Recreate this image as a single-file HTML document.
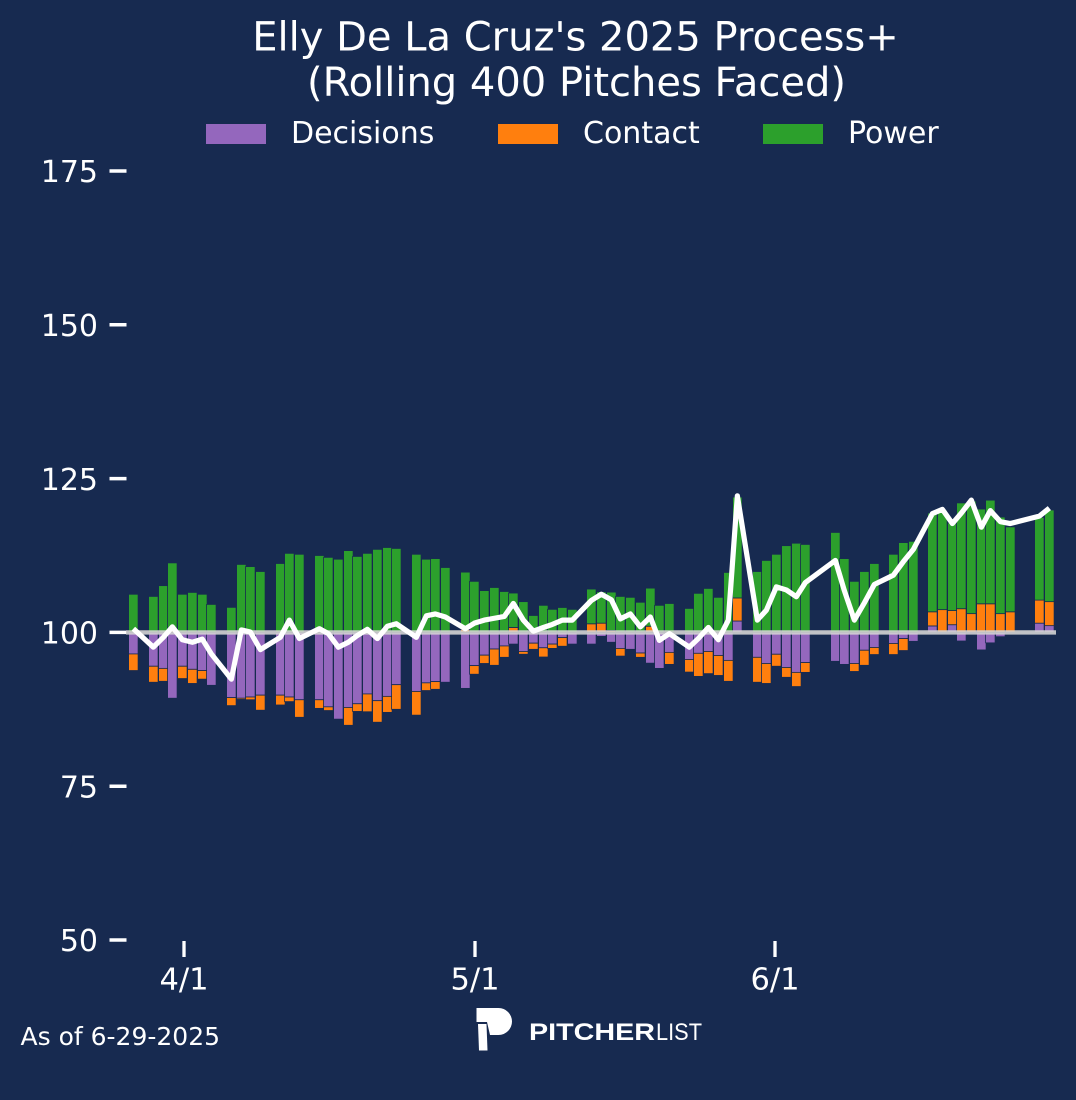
<!DOCTYPE html>
<html>
<head>
<meta charset="utf-8">
<style>
  html, body { margin: 0; padding: 0; background: #172a50; }
  svg { display: block; }
  text { font-family: "DejaVu Sans", "Liberation Sans", sans-serif; fill: #ffffff; }
</style>
</head>
<body>
<svg id="chart" width="1076" height="1100" viewBox="0 0 1076 1100" xmlns="http://www.w3.org/2000/svg">
  <rect x="0" y="0" width="1076" height="1100" fill="#172a50"/>

  <!-- Title -->
  <text x="575.5" y="50.7" font-size="40" text-anchor="middle">Elly De La Cruz's 2025 Process+</text>
  <text x="576.5" y="96" font-size="40" text-anchor="middle">(Rolling 400 Pitches Faced)</text>

  <!-- Legend -->
  <rect x="206" y="124" width="60" height="20" fill="#9467bd"/>
  <text x="291" y="143" font-size="30">Decisions</text>
  <rect x="498" y="124" width="60" height="20" fill="#ff7f0e"/>
  <text x="583" y="143" font-size="30">Contact</text>
  <rect x="763" y="124" width="60" height="20" fill="#2ca02c"/>
  <text x="848" y="143" font-size="30">Power</text>

  <!-- Y ticks -->
  <g stroke="#ffffff" stroke-width="3.5">
    <line x1="109.5" y1="171" x2="126.5" y2="171"/>
    <line x1="109.5" y1="324.8" x2="126.5" y2="324.8"/>
    <line x1="109.5" y1="478.6" x2="126.5" y2="478.6"/>
    <line x1="109.5" y1="632.4" x2="126.5" y2="632.4"/>
    <line x1="109.5" y1="786.2" x2="126.5" y2="786.2"/>
    <line x1="109.5" y1="940" x2="126.5" y2="940"/>
  </g>
  <g font-size="30" text-anchor="end">
    <text x="98" y="182.2">175</text>
    <text x="98" y="336">150</text>
    <text x="98" y="489.8">125</text>
    <text x="98" y="643.6">100</text>
    <text x="98" y="797.4">75</text>
    <text x="98" y="951.2">50</text>
  </g>

  <!-- X ticks -->
  <g stroke="#ffffff" stroke-width="3.3">
    <line x1="184" y1="941" x2="184" y2="957"/>
    <line x1="475" y1="941" x2="475" y2="957"/>
    <line x1="775" y1="941" x2="775" y2="957"/>
  </g>
  <g font-size="30.5" text-anchor="middle">
    <text x="184" y="989.5">4/1</text>
    <text x="475" y="989.5">5/1</text>
    <text x="775" y="989.5">6/1</text>
  </g>

  <!-- Bars (generated) -->
  <g id="bars"></g>

  <!-- Baseline -->
  <line x1="126" y1="632.4" x2="1056" y2="632.4" stroke="#d3d3d3" stroke-opacity="0.9" stroke-width="4.4"/>

  <!-- Process+ line (generated) -->
  <polyline id="pline" fill="none" stroke="#ffffff" stroke-width="5.2" stroke-linejoin="round" stroke-linecap="butt" points=""/>

  <!-- Footer -->
  <text x="20.5" y="1045" font-size="25">As of 6-29-2025</text>

  <!-- Pitcher List logo -->
  <g fill="#ffffff">
    <path d="M476.5,1008 H498.5 A13.5,13.5 0 0 1 498.5,1035 H490 L487,1022 H476.5 Z"/>
    <path d="M478,1024 H486.5 L487.5,1050.5 H479 Z"/>
  </g>
  <text x="529" y="1040" font-weight="bold" font-size="24.5" textLength="126" lengthAdjust="spacingAndGlyphs" style="font-family:'Liberation Sans',sans-serif;">PITCHER</text>
  <text x="656" y="1040" font-size="24.5" textLength="46" lengthAdjust="spacingAndGlyphs" style="font-family:'Liberation Sans',sans-serif;font-weight:300;">LIST</text>
</svg>

<script>
(function(){
  var data = [
    [129,-3.5,-2.7,6.2,100.6],
    [149,-5.5,-2.6,5.85,97.6],
    [159,-5.85,-2.1,7.6,99.2],
    [168,-10.7,0.3,11.0,100.9],
    [178,-5.5,-2.0,6.2,98.8],
    [188,-6.0,-2.3,6.5,98.4],
    [198,-6.2,-1.4,6.2,98.9],
    [207,-8.6,0,4.55,96.5],
    [227,-10.6,-1.3,4.07,92.4],
    [237,-10.7,-0.2,11.05,100.4],
    [246,-10.5,-0.45,10.7,100.05],
    [256,-10.2,-2.45,9.9,97.2],
    [276,-10.2,-1.6,11.2,99.2],
    [285,-10.5,-0.75,12.85,102.0],
    [295,-10.95,-2.85,12.7,99.0],
    [315,-10.95,-1.4,12.5,100.6],
    [324,-12.1,-0.6,12.2,99.8],
    [334,-14.1,0,11.9,97.6],
    [344,-12.2,-2.9,13.3,98.4],
    [353,-11.6,-1.25,12.35,99.5],
    [363,-10.0,-2.9,12.85,100.5],
    [373,-11.1,-3.5,13.5,99.0],
    [383,-10.4,-2.6,13.8,101.0],
    [392,-8.5,-4.0,13.65,101.4],
    [412,-9.6,-3.85,12.7,99.2],
    [422,-8.2,-1.25,11.9,102.7],
    [431,-8.0,-1.25,12.0,103.0],
    [441,-8.1,0,10.55,102.5],
    [461,-9.1,0.5,9.3,100.6],
    [470,-5.4,-1.4,8.3,101.5],
    [480,-3.7,-1.35,6.8,102.0],
    [490,-2.7,-2.65,7.3,102.3],
    [500,-2.2,-1.85,6.65,102.6],
    [509,-1.9,0.8,5.6,104.7],
    [519,-3.1,-0.45,5.0,102.0],
    [529,-1.75,-1.0,2.75,100.2],
    [539,-2.5,-1.5,4.4,100.8],
    [548,-1.9,-0.7,3.75,101.3],
    [558,-0.85,-1.4,4.05,102.0],
    [568,-1.9,0,3.75,102.0],
    [587,-1.9,1.4,5.65,105.2],
    [597,-0.65,1.5,5.1,106.2],
    [607,-1.6,0.3,6.25,105.3],
    [616,-2.6,-1.25,5.85,102.2],
    [626,-2.75,0,5.7,103.0],
    [636,-3.35,-0.7,4.9,100.9],
    [646,-5.0,1.0,6.2,102.5],
    [655,-5.85,0,4.4,98.7],
    [665,-3.25,-1.95,4.7,99.8],
    [685,-4.4,-2.05,3.9,97.6],
    [694,-3.4,-3.75,6.35,99.0],
    [704,-3.1,-3.6,7.15,100.8],
    [714,-3.75,-3.25,5.7,98.8],
    [724,-4.55,-3.4,9.75,102.0],
    [733,1.85,3.75,16.4,122.2],
    [753,-4.05,-4.05,9.9,102.0],
    [762,-5.05,-3.25,11.7,103.6],
    [772,-3.55,-1.95,12.7,107.4],
    [782,-5.7,-1.6,14.1,106.9],
    [792,-6.5,-2.3,14.5,105.8],
    [801,-4.9,-1.6,14.3,108.1],
    [831,-4.7,0,16.25,111.7],
    [840,-5.2,0,12.0,106.8],
    [850,-5.05,-1.3,8.3,102.0],
    [860,-2.9,-2.45,9.9,104.8],
    [870,-2.45,-1.15,11.2,107.8],
    [889,-1.8,-1.8,12.7,109.3],
    [899,-1.0,-1.95,14.6,111.5],
    [909,-1.45,0,14.8,113.5],
    [928,1.05,2.3,16.05,119.3],
    [938,0,3.7,16.2,120.0],
    [948,1.25,2.3,14.25,117.7],
    [957,-1.4,3.85,17.2,119.4],
    [967,0,3.05,18.3,121.5],
    [977,-2.85,4.65,15.4,117.1],
    [986,-1.7,4.65,16.85,119.8],
    [996,-0.7,3.05,15.7,118.0],
    [1006,0,3.35,13.8,117.7],
    [1035,1.5,3.75,13.45,118.9],
    [1045,1.1,3.9,14.9,120.2]
  ];
  var colors = ["#9467bd","#ff7f0e","#2ca02c"];
  var NS = "http://www.w3.org/2000/svg";
  function Y(v){ return 632.4 - (v - 100) * 6.152; }
  var g = document.getElementById("bars");
  var pts = [];
  for (var i = 0; i < data.length; i++) {
    var r = data[i], left = r[0];
    var pos = 0, neg = 0;
    for (var k = 0; k < 3; k++) {
      var v = r[k+1];
      if (v === 0) continue;
      var y0, y1;
      if (v > 0) { y0 = pos; y1 = pos + v; pos = y1; }
      else { y0 = neg; y1 = neg + v; neg = y1; }
      var top = Y(100 + Math.max(y0, y1));
      var bot = Y(100 + Math.min(y0, y1));
      var rect = document.createElementNS(NS, "rect");
      rect.setAttribute("x", (left - 0.4).toFixed(2));
      rect.setAttribute("y", top.toFixed(2));
      rect.setAttribute("width", "9.5");
      rect.setAttribute("height", Math.max(0.5, bot - top).toFixed(2));
      rect.setAttribute("fill", colors[k]);
      rect.setAttribute("stroke", "#172a50");
      rect.setAttribute("stroke-width", "0.8");
      g.appendChild(rect);
    }
    pts.push((left + 4.35).toFixed(2) + "," + Y(r[4]).toFixed(2));
  }
  document.getElementById("pline").setAttribute("points", pts.join(" "));
})();
</script>
</body>
</html>
